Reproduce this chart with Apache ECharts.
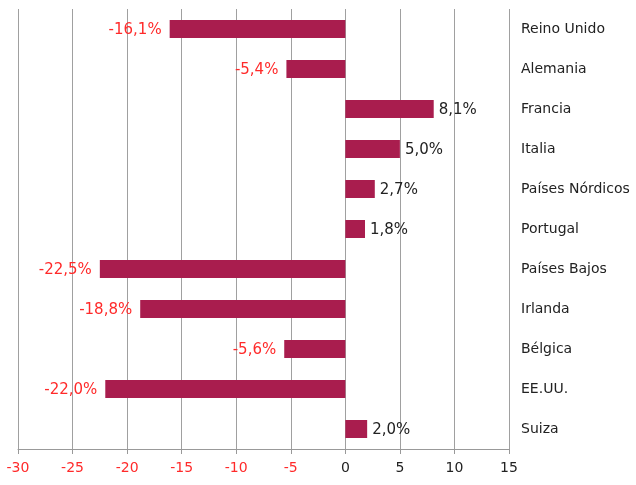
<!DOCTYPE html>
<html>
<head>
<meta charset="utf-8">
<script src="https://cdn.jsdelivr.net/npm/echarts@6/dist/echarts.min.js"></script>
<style>
  html, body { margin: 0; padding: 0; background: #fff; }
  #chart { width: 636px; height: 485px; }
</style>
</head>
<body>
<div id="chart"></div>
<script>
const countries = ['Reino Unido', 'Alemania', 'Francia', 'Italia', 'Países Nórdicos', 'Portugal', 'Países Bajos', 'Irlanda', 'Bélgica', 'EE.UU.', 'Suiza'];
const values = [-16.1, -5.4, 8.1, 5.0, 2.7, 1.8, -22.5, -18.8, -5.6, -22.0, 2.0];

const barColor = '#A91D4E';
const negColor = '#FF2A2A';
const posColor = '#222222';

const myChart = echarts.init(document.getElementById('chart'));

// negative values get their label on the left, in red
const seriesData = values.map((v) => ({
  value: v,
  label: {
    position: v < 0 ? 'left' : 'right',
    distance: v < 0 ? 8 : 5,
    color: v < 0 ? negColor : posColor,
  },
}));

const option = {
  animation: false,
  grid: {
    left: 18,
    right: 127,
    top: 9,
    bottom: 36,
  },
  xAxis: {
    type: 'value',
    min: -30,
    max: 15,
    interval: 5,
    axisLine: {
      show: true,
      lineStyle: { color: '#999999' },
    },
    axisTick: {
      show: true,
      length: 5,
      lineStyle: { color: '#999999' },
    },
    axisLabel: {
      fontFamily: 'DejaVu Sans',
      fontSize: 14,
      margin: 12,
      color: (value) => (Number(value) < 0 ? negColor : posColor),
    },
    splitLine: {
      show: true,
      lineStyle: { color: '#a0a0a0', width: 1 },
    },
  },
  yAxis: {
    type: 'category',
    data: countries,
    inverse: true,
    position: 'right',
    axisLine: { show: false },
    axisTick: { show: false },
    axisLabel: {
      fontFamily: 'DejaVu Sans',
      fontSize: 14,
      margin: 12,
      color: posColor,
    },
    splitLine: { show: false },
  },
  series: [
    {
      type: 'bar',
      data: seriesData,
      barWidth: 18,
      itemStyle: { color: barColor },
      label: {
        show: true,
        fontFamily: 'DejaVu Sans',
        fontSize: 15,
        offset: [0, 1],
        formatter: (params) => params.value.toFixed(1).replace('.', ',') + '%',
      },
    },
  ],
};

myChart.setOption(option);
</script>
</body>
</html>
